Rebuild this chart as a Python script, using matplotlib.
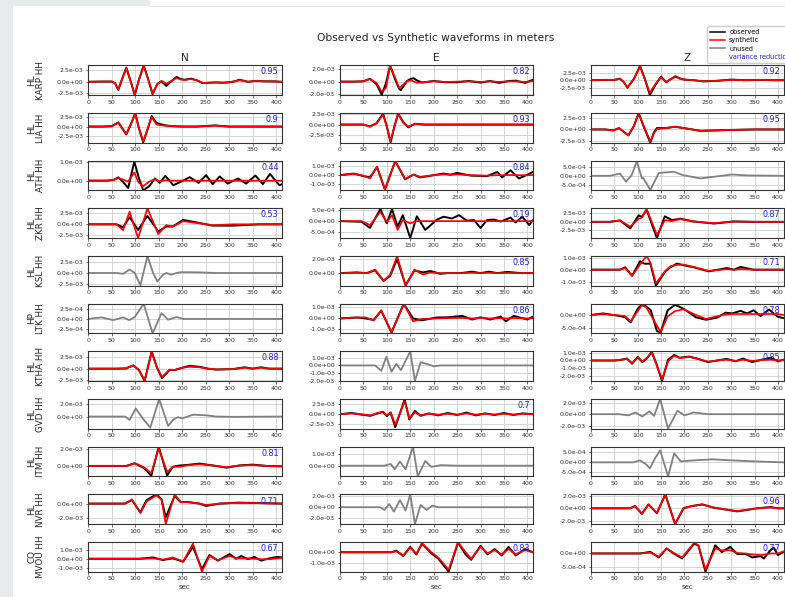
import matplotlib
matplotlib.use("Agg")
import matplotlib.pyplot as plt
from matplotlib.ticker import FormatStrFormatter, MultipleLocator
from matplotlib.lines import Line2D
from matplotlib.patches import Rectangle

UNIT = 1e-3  # all amplitudes below are in units of 1e-3 m

networks = ["HL", "HL", "HL", "HL", "HL", "HP", "HL", "HL", "HL", "HL", "CQ"]
stations = ["KARP", "LIA", "ATH", "ZKR", "KSL", "LTK", "KTHA", "GVD", "ITM", "NVR", "MVOU"]
components = ["N", "E", "Z"]
vr_n = [0.95, 0.9, 0.44, 0.53, None, None, 0.88, None, 0.81, 0.71, 0.67]
vr_e = [0.82, 0.93, 0.84, 0.19, 0.85, 0.86, None, 0.7, None, None, 0.83]
vr_z = [0.92, 0.95, None, 0.87, 0.71, 0.78, 0.85, None, None, 0.96, 0.77]
xticks = [0, 50, 100, 150, 200, 250, 300, 350, 400]

# ---- KARP ----
karp_n_t = [0, 30, 50, 57, 64, 72, 81, 90, 99, 108, 118, 128, 137, 147, 156, 166, 177, 188, 197, 205, 219, 232, 244, 258, 272, 287, 301, 312, 322, 332, 340, 357, 375, 395, 412]
karp_n_obs = [0, 0.05, 0.05, -0.3, -1.8, 0.6, 3.1, 0.2, -2.95, 0.5, 3.6, 0.4, -2.7, -0.5, 0.1, -0.9, 0.1, 1.06, 0.6, 0.45, 0.7, 0.3, -0.3, -0.2, -0.15, -0.2, -0.1, 0.1, 0.45, 0.2, 0, 0.2, 0.1, 0.1, 0]
karp_n_syn = [0, 0.05, 0.05, -0.3, -1.7, 0.6, 3.0, 0.2, -2.8, 0.5, 3.5, 0.4, -2.6, -0.5, 0.2, -0.4, 0.2, 0.8, 0.5, 0.4, 0.6, 0.3, -0.25, -0.2, -0.1, -0.2, -0.1, 0.1, 0.35, 0.2, 0, 0.2, 0.1, 0.05, 0]
karp_e_t = [0, 30, 50, 64, 78, 89, 98, 107, 118, 126, 130, 143, 150, 157, 164, 175, 200, 225, 250, 275, 300, 320, 340, 360, 375, 395, 412]
karp_e_obs = [0, 0, 0.05, 0.44, -0.4, -2.05, -0.3, 2.5, 0.3, -1.1, -1.33, 0.1, 0.4, 0.55, 0.2, -0.15, 0.1, -0.1, -0.1, 0.1, -0.15, 0.1, -0.2, 0.1, 0.15, -0.2, 0.3]
karp_e_syn = [0, 0, 0.05, 0.4, -0.2, -1.6, -1.0, 2.45, 0.6, -0.95, -0.8, 0.05, 0.2, 0.05, -0.2, -0.1, 0.05, -0.05, 0.0, 0.05, -0.05, 0.05, -0.05, 0.05, 0.05, -0.05, 0.1]
karp_z_t = [0, 30, 50, 62, 70, 78, 92, 105, 115, 126, 138, 150, 161, 170, 181, 190, 200, 220, 240, 270, 300, 330, 360, 390, 412]
karp_z_obs = [0, 0.1, 0.1, 0.5, -0.6, -2.5, 0.5, 4.7, 0.5, -4.9, -1.5, 1.2, -0.7, 0.3, 1.3, 0.6, 0.2, 0, -0.4, -0.2, 0.2, 0, 0.1, 0, 0]
karp_z_syn = [0, 0.1, 0.1, 0.5, -0.6, -2.4, 0.5, 4.6, 0.5, -4.2, -1.2, 1.0, -0.6, 0.3, 1.1, 0.5, 0.2, 0, -0.4, -0.2, 0.1, 0, 0.1, 0, 0]

# ---- LIA ----
lia_n_t = [0, 30, 50, 64, 81, 92, 100, 108, 117, 127, 135, 145, 152, 165, 180, 200, 230, 270, 300, 350, 412]
lia_n_obs = [0, 0, 0.1, 1.1, -2.1, 1.0, 3.6, -0.5, -4.2, -0.5, 2.8, 1.0, 0.7, 0.3, 0.1, 0, 0, 0.3, 0, 0, 0]
lia_n_syn = [0, 0, 0.1, 1.0, -2.0, 1.0, 3.5, -0.5, -4.0, -0.3, 2.6, 0.6, 0.4, 0.2, 0.1, 0, 0, 0.25, 0, 0, 0]
lia_e_t = [0, 30, 50, 64, 78, 92, 100, 108, 116, 124, 135, 146, 160, 180, 200, 250, 300, 412]
lia_e_obs = [0, 0, 0, -0.45, 0.3, 2.6, -0.5, -4.2, -0.5, 2.6, 0.6, -0.65, 0.2, 0, 0, 0, 0, 0]
lia_e_syn = [0, 0, 0, -0.5, 0.3, 2.3, -0.5, -3.9, -0.5, 2.5, 0.4, -0.5, 0.15, 0, 0, 0, 0, 0]
lia_z_t = [0, 30, 48, 60, 80, 92, 102, 114, 127, 135, 141, 160, 180, 205, 234, 270, 300, 350, 412]
lia_z_obs = [0, 0, -0.2, 0.3, -1.3, 0.8, 3.6, 0.3, -2.9, -0.6, 0.3, 0.3, 0.6, 0.2, -0.3, -0.2, -0.1, 0, 0]
lia_z_syn = [0, 0, -0.2, 0.3, -1.3, 0.8, 3.5, 0.5, -2.6, -0.8, 0.1, 0.3, 0.6, 0.2, -0.3, -0.2, -0.1, 0, 0]

# ---- ATH ----
ath_n_t = [0, 40, 55, 64, 75, 85, 98, 107, 117, 130, 142, 152, 164, 181, 198, 216, 235, 251, 265, 280, 297, 319, 336, 356, 372, 387, 407, 412]
ath_n_obs = [0, 0, 0.05, 0.18, -0.1, -0.4, 1.05, 0.2, -0.53, -0.3, 0.12, -0.12, 0.26, -0.25, -0.05, 0.19, -0.12, 0.3, -0.19, 0.23, -0.16, 0.12, -0.16, 0.28, -0.19, 0.37, -0.25, -0.2]
ath_n_syn = [0, 0, 0.05, 0.15, 0.05, -0.05, 0.45, -0.1, -0.3, -0.05, 0.08, -0.03, 0.02, 0, 0, 0, 0, 0, 0, 0, 0, 0, 0, 0, 0, 0, 0, 0]
ath_e_t = [0, 29, 50, 64, 79, 96, 107, 118, 139, 157, 171, 200, 221, 236, 250, 279, 314, 336, 346, 364, 382, 400, 412]
ath_e_obs = [0, 0.18, -0.1, -0.25, 0.9, -1.6, 0, 1.55, -0.46, 0.07, -0.25, 0, 0.18, 0.05, 0.25, -0.05, -0.1, 0.36, -0.25, 0.54, -0.36, 0.05, 0.36]
ath_e_syn = [0, 0.15, -0.05, -0.35, 0.95, -1.6, 0, 1.55, -0.4, 0.05, -0.2, 0, 0.1, 0.05, 0.1, 0, -0.05, 0, 0, 0.02, 0, 0, 0.02]
ath_z_t = [0, 40, 62, 75, 87, 98, 109, 112, 127, 145, 177, 198, 234, 263, 302, 334, 412]
ath_z_unused = [0, 0, 0.12, -0.31, 0.03, 0.78, -0.14, -0.12, -0.76, 0.15, 0.22, 0.03, -0.14, -0.05, 0.07, 0.02, 0]

# ---- ZKR ----
zkr_n_t = [0, 40, 60, 74, 88, 106, 126, 149, 166, 180, 202, 237, 265, 308, 365, 412]
zkr_n_obs = [0, 0, 0, -0.67, 1.6, -1.27, 1.9, -1.6, -0.5, -0.5, 1.0, 0.3, -0.3, -0.3, 0, 0]
zkr_n_syn = [0, 0, 0, -1.3, 2.85, -3.1, 3.6, -2.2, -0.2, -0.5, 0.7, 0.2, -0.2, 0, 0, 0]
zkr_e_t = [0, 46, 64, 86, 100, 111, 123, 134, 150, 164, 182, 207, 221, 239, 254, 271, 286, 300, 314, 329, 343, 364, 375, 389, 404, 412]
zkr_e_obs = [0, -0.03, -0.31, 0.55, -0.1, 0.55, -0.25, 0.27, -0.77, 0.22, -0.4, 0.07, 0.2, 0.12, 0.27, 0.02, 0.05, -0.31, 0.05, 0.07, -0.02, 0.16, -0.06, 0.2, -0.18, 0.05]
zkr_e_syn = [0, 0, -0.18, 0.42, -0.03, 0.27, -0.4, 0.05, -0.1, 0, 0, 0, 0, 0, 0, 0, 0, 0, 0, 0, 0, 0, 0, 0, 0, 0]
zkr_z_t = [0, 40, 62, 84, 102, 109, 119, 141, 158, 173, 191, 220, 263, 305, 348, 412]
zkr_z_obs = [0, 0, 0.4, -1.9, 1.9, 1.4, 3.5, -4.7, 1.6, 0.5, 0.9, 0.1, -0.5, 0.1, 0, 0]
zkr_z_syn = [0, 0, 0.4, -1.4, 0.9, 1.2, 3.8, -3.8, 0.5, 0.2, 0.8, 0.1, -0.4, 0.1, 0, 0]

# ---- KSL ----
ksl_n_t = [0, 60, 74, 88, 99, 111, 126, 138, 147, 159, 166, 177, 188, 198, 237, 272, 412]
ksl_n_unused = [0, 0, -0.2, 0.8, 0, -2.9, 4.0, 0, -2.0, -0.4, 0, -0.4, 0, 0.2, 0.15, 0, 0]
ksl_e_t = [0, 36, 57, 75, 93, 107, 122, 140, 159, 177, 193, 214, 229, 257, 282, 300, 318, 336, 357, 386, 412]
ksl_e_obs = [0, 0.1, 0, 0.38, -1.1, -0.38, 1.95, -1.7, 0.38, 0.1, 0.3, -0.1, 0, 0, 0.2, 0, 0.2, 0, 0.17, 0, 0]
ksl_e_syn = [0, 0.05, 0, 0.5, -1.05, -0.24, 2.4, -1.77, 0.48, -0.2, 0.1, 0, 0, 0, 0.05, 0, 0.05, 0, 0.02, 0, 0]
ksl_z_t = [0, 50, 62, 73, 88, 105, 114, 119, 127, 139, 159, 170, 184, 198, 220, 252, 291, 306, 320, 348, 412]
ksl_z_obs = [0, 0, 0, 0.2, -0.51, 0.71, 0.51, 0.5, 0.51, -1.34, -0.14, 0.2, 0.51, 0.37, 0.2, -0.14, 0.14, 0, 0.23, 0, 0]
ksl_z_syn = [0, 0, 0, 0.14, -0.51, 0.43, 0.9, 1.14, 0.6, -1.14, -0.1, 0.29, 0.4, 0.43, 0.23, -0.1, 0.05, 0, 0.05, 0, 0]

# ---- LTK ----
ltk_n_t = [0, 28, 53, 74, 87, 99, 118, 137, 156, 170, 188, 202, 412]
ltk_n_unused = [0, 0.04, -0.03, 0.04, -0.03, 0.05, 0.39, -0.37, 0.15, -0.02, 0.05, 0, 0]
ltk_e_t = [0, 36, 54, 72, 88, 110, 136, 156, 175, 207, 229, 261, 282, 300, 321, 343, 354, 371, 400, 412]
ltk_e_obs = [0, 0.09, 0, -0.14, 0.7, -1.28, 1.33, 0, -0.17, 0.09, 0.1, 0.23, -0.1, 0.1, -0.1, 0.17, -0.26, 0.23, -0.1, 0.17]
ltk_e_syn = [0, 0.08, 0.1, -0.17, 0.75, -1.28, 1.33, -0.26, -0.05, 0.0, 0.03, 0.05, 0, 0.05, 0, 0.03, 0, 0.03, 0, 0.02]
ltk_z_t = [0, 26, 62, 73, 85, 100, 109, 118, 128, 141, 149, 164, 180, 198, 225, 246, 270, 288, 302, 320, 334, 348, 363, 381, 399, 412]
ltk_z_obs = [0, 0.06, -0.04, -0.09, -0.28, 0.24, 0.4, 0.33, 0.18, -0.61, -0.67, 0.18, 0.39, 0.24, -0.09, -0.18, -0.1, 0.09, 0.06, 0.16, 0.06, 0.18, -0.04, 0.21, -0.06, -0.12]
ltk_z_syn = [0, 0.04, -0.02, -0.04, -0.24, 0.15, 0.37, 0.3, 0.0, -0.4, -0.65, -0.05, 0.15, 0.22, 0.0, -0.15, -0.05, 0.02, 0.04, 0.04, 0.04, 0.04, 0.04, 0.04, 0.04, 0.0]

# ---- KTHA ----
ktha_n_t = [0, 60, 80, 96, 108, 120, 135, 146, 157, 173, 184, 200, 216, 237, 255, 272, 308, 333, 350, 368, 386, 412]
ktha_n_obs = [0, 0, 0.05, 0.7, -0.3, -2.65, 3.7, 0.3, -2.0, -0.3, -0.3, 0.2, 0.6, 0.4, 0, -0.2, -0.1, 0.3, 0, 0.3, 0, 0]
ktha_n_syn = [0, 0, 0.05, 0.7, -0.3, -2.6, 3.6, 0.3, -1.8, -0.2, -0.3, 0.2, 0.4, 0.3, 0, -0.15, -0.1, 0.2, 0, 0.2, 0, 0]
ktha_e_t = [0, 75, 88, 99, 110, 120, 130, 150, 160, 172, 185, 200, 215, 412]
ktha_e_unused = [0, 0, -0.7, 1.1, -0.8, 0.2, -0.6, 1.8, -2.0, 0.4, 0.2, -0.1, 0, 0]
ktha_z_t = [0, 50, 65, 77, 88, 100, 110, 120, 130, 140, 152, 165, 178, 190, 210, 230, 250, 270, 290, 310, 325, 345, 365, 385, 400, 412]
ktha_z_obs = [0, 0, 0.1, 0.25, -0.4, 0.45, -0.2, 0.3, 1.1, -0.4, -2.6, 0.1, 0.7, 0.35, 0.5, 0.2, -0.2, 0, 0.2, -0.1, 0.25, -0.2, 0.1, 0.35, -0.1, 0.1]
ktha_z_syn = [0, 0, 0.1, 0.2, -0.35, 0.4, -0.1, 0.35, 1.0, -0.5, -2.4, -0.1, 0.6, 0.3, 0.45, 0.2, -0.15, 0, 0.1, -0.05, 0.1, -0.05, 0.05, 0.1, 0, 0.05]

# ---- GVD ----
gvd_n_t = [0, 78, 88, 101, 117, 132, 151, 170, 182, 191, 200, 212, 223, 251, 272, 308, 412]
gvd_n_unused = [0, 0, -0.54, 1.3, -0.4, -1.78, 2.8, -1.5, -0.43, -0.1, -0.3, 0, 0.3, 0.2, 0, -0.05, 0]
gvd_e_t = [0, 25, 45, 65, 80, 92, 100, 108, 118, 128, 138, 148, 160, 172, 190, 210, 230, 250, 270, 290, 310, 330, 350, 370, 390, 412]
gvd_e_obs = [0, 0.3, -0.1, -0.4, 0.2, 0.6, -0.5, 0.4, -3.2, 0.2, 3.7, -1.3, 0.8, -0.4, 0.2, -0.3, 0.3, -0.2, 0.4, -0.3, 0.2, -0.2, 0.3, -0.2, 0.2, 0]
gvd_e_syn = [0, 0.2, 0, -0.3, 0.3, 0.5, -0.3, 0.5, -2.6, 0.3, 3.2, -1.0, 0.5, -0.3, 0.1, -0.1, 0.1, -0.1, 0.2, -0.1, 0.1, -0.1, 0.1, -0.1, 0.1, 0]
gvd_z_t = [0, 60, 80, 95, 110, 125, 135, 148, 165, 185, 200, 220, 250, 300, 412]
gvd_z_unused = [0, 0, -0.2, 0.3, -0.4, 0.5, -0.3, 2.6, -2.5, 0.6, -0.2, 0.3, 0, 0, 0]

# ---- ITM ----
itm_n_t = [0, 81, 99, 117, 124, 134, 150, 168, 180, 195, 209, 237, 272, 294, 322, 350, 379, 412]
itm_n_obs = [0, 0, 0.3, -0.2, -0.5, -1.15, 2.2, -1.1, -0.1, 0.05, 0.1, 0.27, 0, -0.2, 0.05, 0.15, 0, -0.05]
itm_n_syn = [0, 0, 0.3, -0.1, -0.38, -0.85, 2.0, -0.7, -0.1, -0.1, 0.05, 0.2, 0, -0.15, 0.05, 0.1, 0, -0.05]
itm_e_t = [0, 95, 108, 117, 128, 140, 156, 166, 182, 195, 215, 250, 412]
itm_e_unused = [0, 0, 0.15, -0.3, 0.35, -0.3, 1.6, -0.9, 0.4, -0.1, 0.05, 0, 0]
itm_z_t = [0, 90, 105, 118, 126, 137, 148, 165, 178, 192, 220, 260, 300, 350, 412]
itm_z_unused = [0, 0, 0.1, -0.1, -0.3, 0.2, 0.6, -0.7, 0.45, 0.05, 0.1, 0.15, 0.1, 0.05, 0]

# ---- NVR ----
nvr_n_t = [0, 78, 93, 111, 124, 145, 156, 165, 184, 197, 211, 237, 251, 280, 322, 412]
nvr_n_obs = [0, 0, 0.5, -1.26, 0.5, 1.3, 0.6, -1.95, 1.07, 0.2, 0.23, 0, -0.33, 0, 0.14, 0]
nvr_n_syn = [0, 0, 0.6, -1.35, 0.3, 1.16, 0.6, -2.9, 1.3, 0.2, 0.2, 0, -0.2, 0, 0.1, 0]
nvr_e_t = [0, 85, 95, 105, 115, 128, 140, 150, 160, 172, 185, 197, 210, 412]
nvr_e_unused = [0, 0, -0.5, 0.6, -0.8, 1.3, -0.6, 2.36, -3.1, 0.4, -0.5, 0.3, 0, 0]
nvr_z_t = [0, 84, 94, 109, 123, 141, 159, 180, 198, 216, 238, 263, 313, 356, 384, 400, 412]
nvr_z_obs = [0, 0, 0.37, -0.9, 0.64, -0.8, 2.25, -2.55, 0, 0.37, 0.64, 0.1, -0.5, 0, 0.2, 0, 0]
nvr_z_syn = [0, 0, 0.35, -0.85, 0.6, -0.75, 2.25, -2.55, 0.05, 0.35, 0.6, 0.1, -0.45, 0, 0.15, 0, 0]

# ---- MVOU ----
mvou_n_t = [0, 110, 138, 159, 180, 202, 223, 242, 258, 276, 301, 315, 326, 340, 354, 368, 386, 403, 412]
mvou_n_obs = [0, 0, 0.14, -0.14, 0.05, -0.32, 1.28, -1.14, 0.4, -0.2, 0.5, 0.0, 0.3, -0.05, 0.2, -0.2, 0.05, 0.2, 0.15]
mvou_n_syn = [0, 0, 0.05, -0.1, 0.14, -0.3, 1.64, -1.4, 0.3, -0.15, 0.3, 0.05, 0.05, 0.05, 0.0, -0.05, -0.05, 0.05, 0.1]
mvou_e_t = [0, 110, 120, 135, 150, 163, 175, 195, 210, 232, 252, 268, 280, 300, 315, 330, 345, 360, 375, 395, 412]
mvou_e_obs = [0, 0, 0.15, -0.35, 0.5, -0.2, 0.8, -0.1, -0.6, -1.8, 0.9, -0.2, -0.7, 0.6, -0.2, 0.3, -0.3, 0.5, -0.3, 0.3, 0]
mvou_e_syn = [0, 0, 0.1, -0.3, 0.45, -0.15, 0.85, 0, -0.5, -1.6, 0.94, 0, -0.6, 0.5, -0.1, 0.2, -0.2, 0.3, -0.2, 0.2, 0]
mvou_z_t = [0, 105, 127, 145, 162, 177, 195, 221, 230, 245, 266, 280, 298, 313, 331, 345, 363, 370, 384, 391, 400, 412]
mvou_z_obs = [0, 0, 0.06, -0.15, 0.19, 0, -0.19, 0.37, 0.3, -0.69, 0.31, 0.05, 0.25, -0.02, -0.02, -0.15, -0.1, -0.19, 0.12, 0.22, -0.06, 0.06]
mvou_z_syn = [0, 0, 0.03, -0.12, 0.19, 0.02, -0.15, 0.41, 0.3, -0.6, 0.19, 0.12, 0.12, 0.02, 0.0, -0.04, -0.06, -0.05, 0.0, 0.0, 0.0, 0.08]

# panel table: (time, observed, synthetic, unused) built from the lists above
traces = [
    [(karp_n_t, karp_n_obs, karp_n_syn, None), (karp_e_t, karp_e_obs, karp_e_syn, None), (karp_z_t, karp_z_obs, karp_z_syn, None)],
    [(lia_n_t, lia_n_obs, lia_n_syn, None), (lia_e_t, lia_e_obs, lia_e_syn, None), (lia_z_t, lia_z_obs, lia_z_syn, None)],
    [(ath_n_t, ath_n_obs, ath_n_syn, None), (ath_e_t, ath_e_obs, ath_e_syn, None), (ath_z_t, None, None, ath_z_unused)],
    [(zkr_n_t, zkr_n_obs, zkr_n_syn, None), (zkr_e_t, zkr_e_obs, zkr_e_syn, None), (zkr_z_t, zkr_z_obs, zkr_z_syn, None)],
    [(ksl_n_t, None, None, ksl_n_unused), (ksl_e_t, ksl_e_obs, ksl_e_syn, None), (ksl_z_t, ksl_z_obs, ksl_z_syn, None)],
    [(ltk_n_t, None, None, ltk_n_unused), (ltk_e_t, ltk_e_obs, ltk_e_syn, None), (ltk_z_t, ltk_z_obs, ltk_z_syn, None)],
    [(ktha_n_t, ktha_n_obs, ktha_n_syn, None), (ktha_e_t, None, None, ktha_e_unused), (ktha_z_t, ktha_z_obs, ktha_z_syn, None)],
    [(gvd_n_t, None, None, gvd_n_unused), (gvd_e_t, gvd_e_obs, gvd_e_syn, None), (gvd_z_t, None, None, gvd_z_unused)],
    [(itm_n_t, itm_n_obs, itm_n_syn, None), (itm_e_t, None, None, itm_e_unused), (itm_z_t, None, None, itm_z_unused)],
    [(nvr_n_t, nvr_n_obs, nvr_n_syn, None), (nvr_e_t, None, None, nvr_e_unused), (nvr_z_t, nvr_z_obs, nvr_z_syn, None)],
    [(mvou_n_t, mvou_n_obs, mvou_n_syn, None), (mvou_e_t, mvou_e_obs, mvou_e_syn, None), (mvou_z_t, mvou_z_obs, mvou_z_syn, None)],
]

# axis settings per panel: (ymin, ymax, tick step)
ylims = [
    [(-2.9, 3.6, 2.5), (-2.1, 2.55, 2.0), (-4.9, 4.9, 2.5)],
    [(-4.3, 3.6, 2.5), (-4.25, 2.7, 2.5), (-2.9, 3.6, 2.5)],
    [(-0.53, 1.09, 1.0), (-1.68, 1.6, 1.0), (-0.78, 0.81, 0.5)],
    [(-3.1, 3.6, 2.5), (-0.77, 0.58, 0.5), (-4.7, 3.9, 2.5)],
    [(-3.0, 4.0, 2.5), (-1.77, 2.4, 2.0), (-1.34, 1.14, 1.0)],
    [(-0.37, 0.39, 0.25), (-1.36, 1.34, 1.0), (-0.7, 0.43, 0.5)],
    [(-2.65, 3.7, 2.5), (-2.0, 1.8, 1.0), (-2.6, 1.15, 1.0)],
    [(-1.95, 2.8, 2.0), (-3.6, 3.75, 2.5), (-2.5, 2.6, 2.0)],
    [(-1.2, 2.2, 2.0), (-0.9, 1.6, 1.0), (-0.7, 0.78, 0.5)],
    [(-2.9, 1.3, 2.0), (-3.1, 2.36, 2.0), (-2.55, 2.25, 2.0)],
    [(-1.4, 1.8, 1.0), (-1.8, 0.94, 1.0), (-0.69, 0.43, 0.5)],
]

W, H = 785, 597
fig = plt.figure(figsize=(W / 100, H / 100), dpi=100)
fig.patch.set_facecolor("white")
fig.patches.append(Rectangle((0, 0), 12.5 / W, 1, transform=fig.transFigure,
                             facecolor="#e8ebec", edgecolor="none", zorder=-10))
fig.patches.append(Rectangle((0, 1 - 5.5 / H), 150 / W, 5.5 / H, transform=fig.transFigure,
                             facecolor="#e8ebec", edgecolor="none", zorder=-10))
fig.add_artist(Line2D([150 / W, 1], [1 - 5.5 / H, 1 - 5.5 / H], transform=fig.transFigure,
                      color="#e6e6e6", lw=0.8))

col_left = [88.3, 340.0, 591.0]
col_width = [193.4, 193.0, 192.5]
row_bottom0 = 95.0
row_step = 47.67
ax_h = 29.6
vr_cols = [vr_n, vr_e, vr_z]

for r in range(len(stations)):
    for c in range(3):
        bottom_px = row_bottom0 + row_step * r
        ax = fig.add_axes([col_left[c] / W, 1 - bottom_px / H, col_width[c] / W, ax_h / H])
        t, obs, syn, unused = traces[r][c]
        if unused is not None:
            ax.plot(t, [v * UNIT for v in unused], color="#808080", lw=1.3,
                    solid_joinstyle="round", solid_capstyle="round")
        else:
            ax.plot(t, [v * UNIT for v in obs], color="black", lw=1.4,
                    solid_joinstyle="round", solid_capstyle="round")
            ax.plot(t, [v * UNIT for v in syn], color="red", lw=1.25,
                    solid_joinstyle="round", solid_capstyle="round")
        ymin, ymax, step = ylims[r][c]
        ax.set_ylim(ymin * UNIT, ymax * UNIT)
        ax.yaxis.set_major_locator(MultipleLocator(step * UNIT))
        ax.yaxis.set_major_formatter(FormatStrFormatter("%.1e"))
        ax.set_xlim(0, 412)
        ax.set_xticks(xticks)
        ax.grid(True, color="#cfcfcf", lw=0.6)
        ax.set_axisbelow(True)
        ax.tick_params(labelsize=4.5, length=1.8, width=0.5, pad=1.6, colors="#333333")
        for s in ax.spines.values():
            s.set_color("#333333")
            s.set_linewidth(0.8)
        vr = vr_cols[c][r]
        if vr is not None:
            ax.text(0.984, 0.93, str(vr), ha="right", va="top", color="#1f1fe0",
                    fontsize=5.8, transform=ax.transAxes, zorder=5)
        if c == 0:
            ax.set_ylabel(networks[r] + "\n" + stations[r] + " HH", fontsize=6.3,
                          linespacing=1.0, color="#222222")
            ax.yaxis.set_label_coords(-0.222, 0.5)
        if r == 0:
            ax.set_title(components[c], fontsize=7.5, pad=3.5, color="#222222")
        if r == len(stations) - 1:
            ax.set_xlabel("sec", fontsize=5, labelpad=1.5, color="#333333")

fig.text(436 / W, 1 - 38 / H, "Observed vs Synthetic waveforms in meters",
         ha="center", va="center", fontsize=7.7, color="#222222")

handles = [Line2D([], [], color="black", lw=1.1), Line2D([], [], color="red", lw=1.1),
           Line2D([], [], color="#808080", lw=1.1), Line2D([], [], color="none")]
labels = ["observed", "synthetic", "unused", "variance reduction"]
leg = fig.legend(handles, labels, loc="upper left", bbox_to_anchor=(704 / W, 1 - 23 / H),
                 fontsize=4.7, handlelength=2.3, handletextpad=0.6, labelspacing=0.35,
                 borderpad=0.45, framealpha=1, edgecolor="#cccccc", fancybox=True)
leg.get_texts()[3].set_color("#1f1fe0")

fig.savefig("out.png", dpi=100)
